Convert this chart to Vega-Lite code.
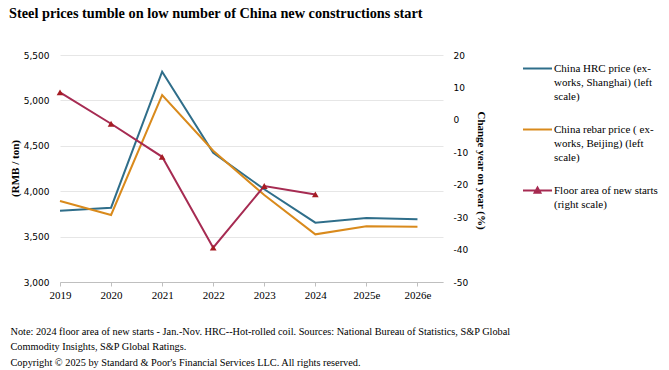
{
  "$schema": "https://vega.github.io/schema/vega-lite/v6.json",
  "width": 383,
  "height": 227,
  "autosize": "none",
  "padding": {"left": 60, "top": 55, "right": 226, "bottom": 88},
  "background": "white",
  "config": {"view": {"stroke": null}, "font": "Liberation Serif", "axis": {"labelOverlap": false}},
  "title": {
    "text": "Steel prices tumble on low number of China new constructions start",
    "anchor": "start",
    "frame": "group",
    "dx": -51,
    "offset": 30,
    "font": "Liberation Serif",
    "fontSize": 14.3,
    "fontWeight": "bold",
    "color": "#000000"
  },
  "data": {
    "values": [
      {"year": "2019", "series": "China HRC price (ex-|works, Shanghai) (left|scale)", "price": 3785},
      {"year": "2020", "series": "China HRC price (ex-|works, Shanghai) (left|scale)", "price": 3818},
      {"year": "2021", "series": "China HRC price (ex-|works, Shanghai) (left|scale)", "price": 5316},
      {"year": "2022", "series": "China HRC price (ex-|works, Shanghai) (left|scale)", "price": 4424},
      {"year": "2023", "series": "China HRC price (ex-|works, Shanghai) (left|scale)", "price": 4021},
      {"year": "2024", "series": "China HRC price (ex-|works, Shanghai) (left|scale)", "price": 3653},
      {"year": "2025e", "series": "China HRC price (ex-|works, Shanghai) (left|scale)", "price": 3705},
      {"year": "2026e", "series": "China HRC price (ex-|works, Shanghai) (left|scale)", "price": 3690},
      {"year": "2019", "series": "China rebar price ( ex-|works, Beijing) (left|scale)", "price": 3892},
      {"year": "2020", "series": "China rebar price ( ex-|works, Beijing) (left|scale)", "price": 3738},
      {"year": "2021", "series": "China rebar price ( ex-|works, Beijing) (left|scale)", "price": 5059},
      {"year": "2022", "series": "China rebar price ( ex-|works, Beijing) (left|scale)", "price": 4446},
      {"year": "2023", "series": "China rebar price ( ex-|works, Beijing) (left|scale)", "price": 3958},
      {"year": "2024", "series": "China rebar price ( ex-|works, Beijing) (left|scale)", "price": 3525},
      {"year": "2025e", "series": "China rebar price ( ex-|works, Beijing) (left|scale)", "price": 3613},
      {"year": "2026e", "series": "China rebar price ( ex-|works, Beijing) (left|scale)", "price": 3609},
      {"year": "2019", "series": "Floor area of new starts|(right scale)", "yoy": 8.5},
      {"year": "2020", "series": "Floor area of new starts|(right scale)", "yoy": -1.2},
      {"year": "2021", "series": "Floor area of new starts|(right scale)", "yoy": -11.4},
      {"year": "2022", "series": "Floor area of new starts|(right scale)", "yoy": -39.4},
      {"year": "2023", "series": "Floor area of new starts|(right scale)", "yoy": -20.4},
      {"year": "2024", "series": "Floor area of new starts|(right scale)", "yoy": -23.0}
    ]
  },
  "encoding": {
    "x": {
      "field": "year",
      "type": "ordinal",
      "sort": null,
      "scale": {"type": "point", "padding": 0.25, "align": 0},
      "axis": {
        "labelAngle": 0,
        "labelFont": "Liberation Serif",
        "labelFontSize": 11,
        "labelColor": "#000000",
        "labelPadding": 3,
        "tickSize": 4,
        "tickColor": "#BFBFBF",
        "domainColor": "#BFBFBF",
        "grid": false,
        "title": [
          "Note: 2024 floor area of new starts - Jan.-Nov. HRC--Hot-rolled coil. Sources: National Bureau of Statistics, S&P Global",
          "Commodity Insights, S&P Global Ratings.",
          "Copyright © 2025 by Standard & Poor's Financial Services LLC. All rights reserved."
        ],
        "titleAnchor": "start",
        "titleAlign": "left",
        "titleBaseline": "top",
        "titleX": -50,
        "titleY": 44,
        "titleFont": "Liberation Serif",
        "titleFontSize": 10.3,
        "titleFontWeight": "normal",
        "titleColor": "#000000",
        "titleLineHeight": 15.5
      }
    }
  },
  "layer": [
    {
      "transform": [{"filter": "isValid(datum.price)"}],
      "mark": {"type": "line", "strokeWidth": 2},
      "encoding": {
        "y": {
          "field": "price",
          "type": "quantitative",
          "scale": {"domain": [3000, 5500], "nice": false, "zero": false},
          "axis": {
            "values": [3000, 3500, 4000, 4500, 5000, 5500],
            "format": ",.0f",
            "ticks": false,
            "domain": false,
            "grid": true,
            "gridColor": "#E6E6E6",
            "labelFont": "DejaVu Sans",
            "labelFontSize": 9,
            "labelColor": "#000000",
            "labelPadding": 11,
            "labelOverlap": false,
            "title": "(RMB / ton)",
            "titleFont": "Liberation Serif",
            "titleFontSize": 11,
            "titleFontWeight": "bold",
            "titleColor": "#000000",
            "titleX": -45,
            "titleY": 113,
            "titleAngle": -90,
            "titleAlign": "center",
            "titleBaseline": "middle"
          }
        },
        "color": {
          "field": "series",
          "type": "nominal",
          "sort": null,
          "scale": {
            "domain": [
              "China HRC price (ex-|works, Shanghai) (left|scale)",
              "China rebar price ( ex-|works, Beijing) (left|scale)",
              "Floor area of new starts|(right scale)"
            ],
            "range": ["#2F6E8A", "#D98A1C", "#A62B52"]
          },
          "legend": {
            "orient": "none",
            "legendX": 462,
            "legendY": -2,
            "title": null,
            "labelExpr": "split(datum.label, '|')",
            "labelFont": "Liberation Serif",
            "labelFontSize": 11,
            "labelColor": "#000000",
            "labelLimit": 300,
            "labelBaseline": "top",
            "labelOffset": 1,
            "rowPadding": 12,
            "symbolSize": 841,
            "symbolStrokeWidth": 2,
            "encode": {
              "symbols": {
                "update": {
                  "shape": {"signal": "indexof(datum.value, 'Floor') == 0 ? 'M-1,0H1M-0.2,0.15L0,-0.2L0.2,0.15Z' : 'M-1,0H1'"},
                  "fill": {"signal": "indexof(datum.value, 'Floor') == 0 ? '#A51C24' : 'transparent'"}
                }
              },
              "labels": {"update": {"lineHeight": {"value": 14}, "dy": {"value": -6}}}
            }
          }
        }
      }
    },
    {
      "transform": [{"filter": "isValid(datum.yoy)"}],
      "encoding": {
        "y": {
          "field": "yoy",
          "type": "quantitative",
          "scale": {"domain": [-50, 20], "nice": false, "zero": false},
          "axis": {
            "orient": "right",
            "values": [-50, -40, -30, -20, -10, 0, 10, 20],
            "labelExpr": "'' + datum.value",
            "labelOverlap": false,
            "ticks": false,
            "domain": false,
            "grid": false,
            "labelFont": "DejaVu Sans",
            "labelFontSize": 9,
            "labelColor": "#000000",
            "labelPadding": 10,
            "title": "Change year on year (%)",
            "titleFont": "Liberation Serif",
            "titleFontSize": 11,
            "titleFontWeight": "bold",
            "titleColor": "#000000",
            "titleX": 37,
            "titleY": 115,
            "titleAngle": 90,
            "titleAlign": "center",
            "titleBaseline": "middle"
          }
        }
      },
      "layer": [
        {
          "mark": {"type": "line", "strokeWidth": 2},
          "encoding": {
            "color": {"field": "series", "type": "nominal", "sort": null}
          }
        },
        {
          "mark": {"type": "point", "shape": "triangle-up", "filled": true, "size": 45, "opacity": 1, "color": "#A51C24"}
        }
      ]
    }
  ],
  "resolve": {"scale": {"y": "independent"}}
}
